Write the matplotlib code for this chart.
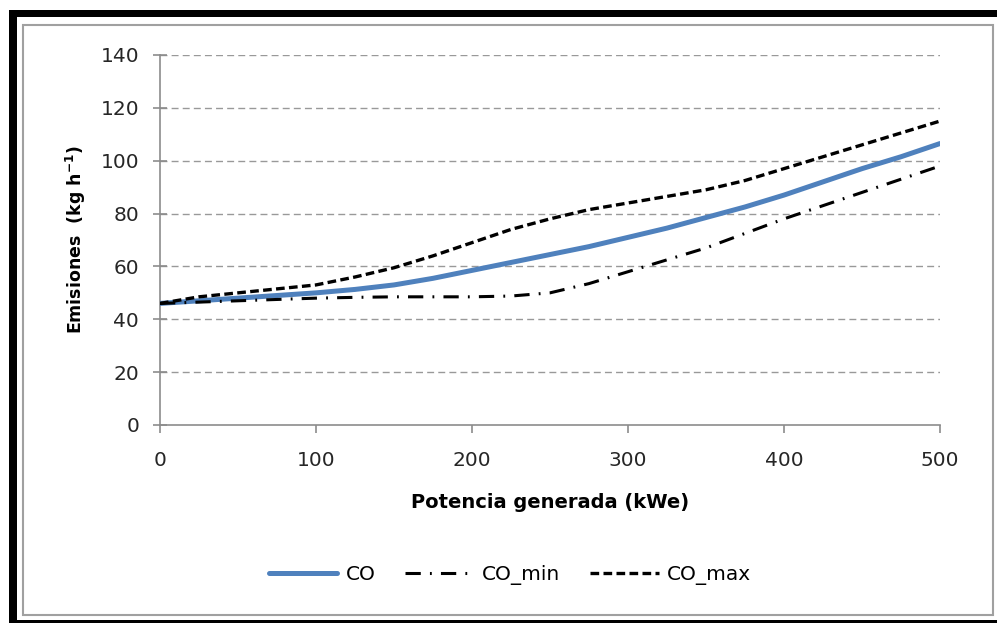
import matplotlib
matplotlib.use('Agg')
import matplotlib.pyplot as plt
from matplotlib.patches import Rectangle

# potencia generada (kWe)
potencia = [0, 25, 50, 75, 100, 125, 150, 175, 200, 225, 250,
            275, 300, 325, 350, 375, 400, 425, 450, 475, 500]
# emisiones (kg/h)
co = [46, 47, 48, 49, 50, 51.3, 53, 55.5, 58.5, 61.5, 64.5,
      67.5, 71, 74.5, 78.5, 82.5, 87, 92, 97, 101.5, 106.5]
co_min = [46, 46.5, 47, 47.5, 48, 48.3, 48.5, 48.5, 48.5, 48.8, 50,
          53.5, 58, 62.5, 67, 72.5, 78, 83, 88, 93, 98]
co_max = [46, 48.5, 50, 51.5, 53, 56, 59.5, 64, 69, 74, 78,
          81.5, 84, 86.5, 89, 92.5, 97, 101.5, 106, 110.5, 115]

yticks = [0, 20, 40, 60, 80, 100, 120, 140]
xticks = [0, 100, 200, 300, 400, 500]

W, H = 997, 623
fig = plt.figure(figsize=(W / 100, H / 100), dpi=100)
fig.set_facecolor('white')

# marco negro y marco gris del grafico
fig.patches.append(Rectangle((9 / W, 1 - 17 / H), 1 - 9 / W, 7 / H, transform=fig.transFigure,
                             facecolor='black', edgecolor='none'))
fig.patches.append(Rectangle((9 / W, 0), 8 / W, 1 - 10 / H, transform=fig.transFigure,
                             facecolor='black', edgecolor='none'))
fig.patches.append(Rectangle((9 / W, 0), 1 - 9 / W, 3 / H, transform=fig.transFigure,
                             facecolor='black', edgecolor='none'))
fig.patches.append(Rectangle((23 / W, 1 - 615 / H), 970 / W, 590 / H, transform=fig.transFigure,
                             facecolor='none', edgecolor='#a0a0a0', linewidth=1.5))

ax = fig.add_axes([160 / W, 1 - 425 / H, 780 / W, 370 / H])

ax.plot(potencia, co, color='#4F81BD', lw=3.6, solid_capstyle='round', label='CO', zorder=3)
ax.plot(potencia, co_min, color='black', lw=2.2, dashes=(5, 3, 0.6, 3), label='CO_min', zorder=3)
ax.plot(potencia, co_max, color='black', lw=2.4, dashes=(2.6, 1.3), label='CO_max', zorder=3)

ax.set_xlim(0, 500)
ax.set_ylim(0, 140)
ax.set_xticks(xticks)
ax.set_yticks(yticks)

for y in yticks[1:]:
    ax.axhline(y, color='#999999', lw=1, dashes=(5, 3), zorder=1)

for s in ['top', 'right']:
    ax.spines[s].set_visible(False)
for s in ['left', 'bottom']:
    ax.spines[s].set_color('#8c8c8c')
    ax.spines[s].set_linewidth(1.2)

ax.tick_params(axis='y', direction='inout', length=10, width=1.2, color='#8c8c8c',
               labelsize=14.5, labelcolor='#262626', pad=10)
ax.tick_params(axis='x', direction='out', length=6, width=1.2, color='#8c8c8c',
               labelsize=14.5, labelcolor='#262626', pad=13)

ax.set_xlabel('Potencia generada (kWe)', fontsize=14, fontweight='bold', labelpad=16)
ax.set_ylabel(r'Emisiones  (kg h$^{\mathbf{-1}}$)', fontsize=12.5, fontweight='bold', labelpad=9)

fig.legend(loc='center', bbox_to_anchor=(510 / W, 1 - 575 / H), ncol=3, frameon=False,
           fontsize=14.5, handlelength=3.4, columnspacing=1.5, handletextpad=0.4)

fig.savefig('out.png', dpi=100)
